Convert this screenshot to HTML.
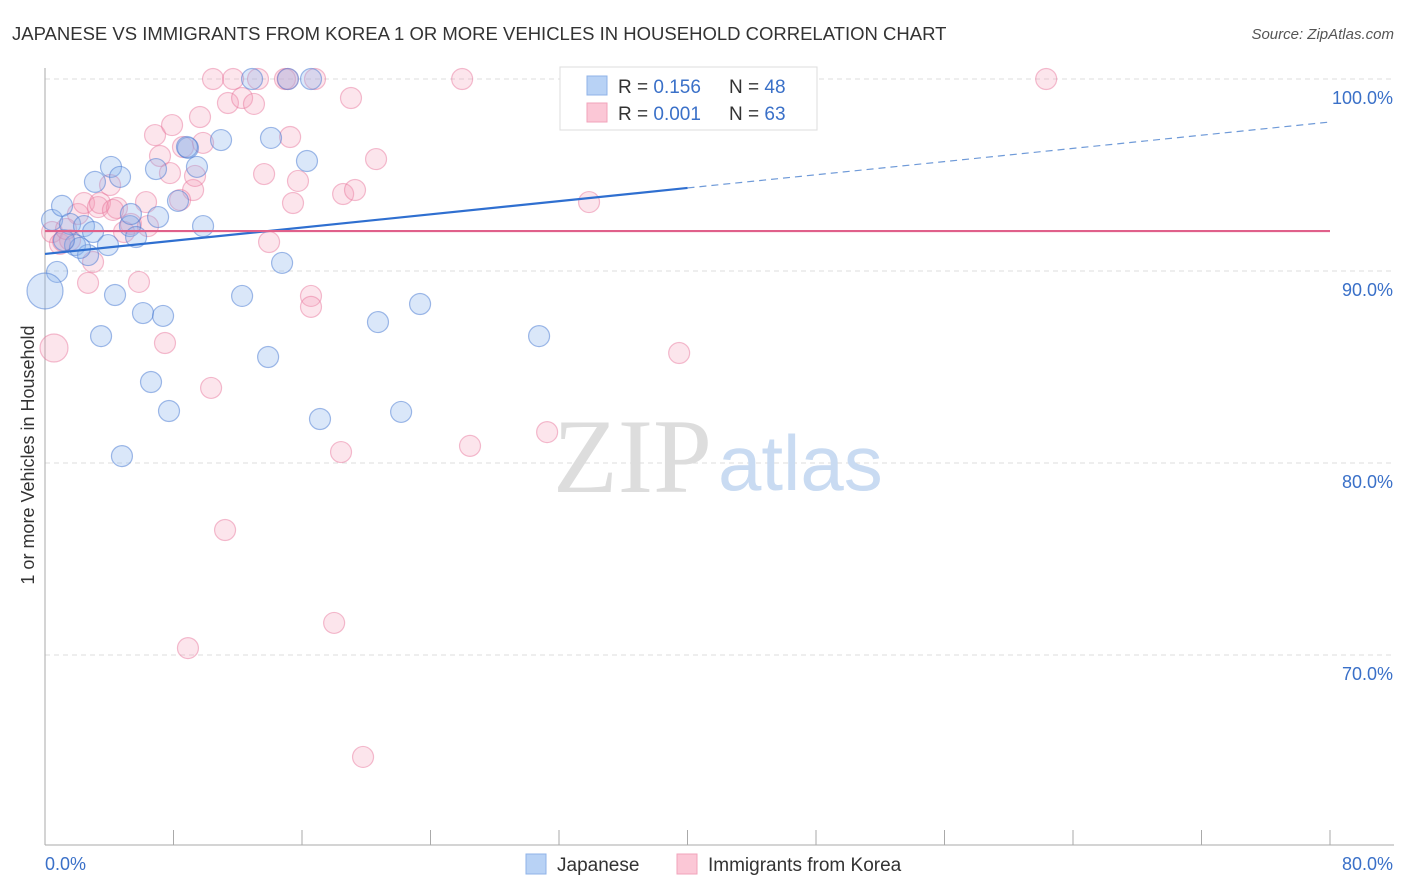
<!DOCTYPE html>
<html><head><meta charset="utf-8">
<style>
body{margin:0;background:#fff;font-family:"Liberation Sans",sans-serif;}
svg{display:block}
</style></head>
<body>
<svg id="chart" width="1406" height="892" xmlns="http://www.w3.org/2000/svg">
<text x="12" y="40" font-size="18.5" fill="#333">JAPANESE VS IMMIGRANTS FROM KOREA 1 OR MORE VEHICLES IN HOUSEHOLD CORRELATION CHART</text>
<text x="1394" y="39" font-size="15" fill="#555" font-style="italic" text-anchor="end">Source: ZipAtlas.com</text>
<g id="grid"></g>
<g id="axes"></g>
<text x="553" y="492" font-size="106" fill="#ddd" font-family="Liberation Serif,serif">ZIP</text>
<text x="718" y="490" font-size="78" fill="#c9dbf2">atlas</text>
<g id="points"></g>
<g id="trends"></g>
<text transform="translate(34,455) rotate(-90)" font-size="18" fill="#333" text-anchor="middle">1 or more Vehicles in Household</text>
<g>
<rect x="560" y="67" width="257" height="63" fill="#fff" stroke="#ddd"/>
<rect x="587" y="76" width="20" height="19" fill="#b8d2f5" stroke="#8fb3e8"/>
<rect x="587" y="103" width="20" height="19" fill="#fbc7d6" stroke="#f2a3bb"/>
<text x="618" y="93" font-size="19" fill="#333">R = <tspan fill="#3a70c8">0.156</tspan><tspan x="729">N = </tspan><tspan fill="#3a70c8">48</tspan></text>
<text x="618" y="120" font-size="19" fill="#333">R = <tspan fill="#3a70c8">0.001</tspan><tspan x="729">N = </tspan><tspan fill="#3a70c8">63</tspan></text>
</g>
<g>
<rect x="526" y="854" width="20" height="20" fill="#b8d2f5" stroke="#8fb3e8"/>
<text x="557" y="871" font-size="19" fill="#333">Japanese</text>
<rect x="677" y="854" width="20" height="20" fill="#fbc7d6" stroke="#f2a3bb"/>
<text x="708" y="871" font-size="19" fill="#333">Immigrants from Korea</text>
</g>
</svg>
<script>
const yTicks=[100,90,80,70];
const yTickLabels=["100.0%","90.0%","80.0%","70.0%"];
const xTickLabels=["0.0%","80.0%"];
const japaneseX=[0.44,1.06,1.56,3.11,4.11,4.67,2.43,2.99,1.87,2.68,3.92,5.29,5.67,7.04,5.35,0.75,0,4.36,3.49,6.10,7.35,6.60,7.72,4.79,6.91,8.28,8.90,9.46,9.84,10.96,12.27,13.89,14.07,14.76,16.31,17.12,20.73,22.17,23.35,30.76,12.89,15.13,16.56,36.86,38.6,8.84,2.18,1.18];
const japaneseY=[92.66,93.39,92.45,94.64,95.42,94.90,92.34,92.03,91.35,90.83,91.35,92.34,91.77,92.81,92.97,89.95,88.96,88.75,86.61,87.81,87.66,84.22,82.71,80.36,95.31,93.65,96.41,95.42,92.34,96.82,88.70,85.52,96.93,90.42,95.73,82.29,87.34,82.66,88.28,86.61,100,100,100,100,100,96.46,91.2,91.6];
const koreaX=[0.44,0.93,1.56,1.12,2.05,2.43,3.30,3.42,4.05,4.48,4.92,5.35,6.41,6.85,7.16,7.78,7.91,8.59,9.22,9.34,9.65,9.84,10.46,11.39,11.71,12.27,13.01,13.26,13.64,13.95,14.94,15.26,15.44,15.75,16.56,16.56,16.81,18.56,19.05,19.30,20.61,18.43,18.0,19.80,11.21,8.90,10.34,7.47,5.85,2.68,0.56,2.99,25.97,26.46,31.26,33.87,39.48,62.33,4.23,6.29,8.41,1.31,15.1];
const koreaY=[92.03,91.41,91.61,91.56,92.97,93.54,93.33,93.54,94.48,93.28,92.03,92.45,92.34,97.08,95.99,95.10,97.60,96.46,94.22,94.95,98.02,96.67,100,98.75,100,99.01,98.70,100,95.05,91.51,100,96.98,93.54,94.69,88.70,88.13,100,94.01,99.01,94.22,95.83,80.57,71.67,64.69,76.51,70.36,83.91,86.25,89.43,89.38,85.99,90.47,100,80.89,81.61,93.59,85.73,100,93.18,93.59,93.70,92.19,100];
const japaneseTrend=[90.89,97.76];
const koreaTrend=[92.08,92.08];
const NS="http://www.w3.org/2000/svg";
const X0=45,X1=1330;
const xs=v=>X0+(v/80)*(X1-X0);
const ys=v=>79+(100-v)*19.2;
function mk(tag,attrs,parent){const e=document.createElementNS(NS,tag);for(const k in attrs)e.setAttribute(k,attrs[k]);parent.appendChild(e);return e;}
const grid=document.getElementById('grid'),axes=document.getElementById('axes');
yTicks.forEach((t,i)=>{
 const l=mk('line',{x1:X0,x2:1394,y1:ys(t),y2:ys(t),stroke:'#ddd','stroke-dasharray':'5,4'},grid);
 
 
 const tx=mk('text',{x:1393,y:ys(t)+25,'font-size':18,fill:'#3a70c8','text-anchor':'end'},axes);
 tx.textContent=yTickLabels[i];
 
 
});
const ax=mk('line',{x1:X0,x2:X0,y1:68,y2:845,stroke:'#aaa'},axes);


const bx=mk('line',{x1:X0,x2:1394,y1:845,y2:845,stroke:'#aaa'},axes);


for(let i=1;i<=10;i++){const t=mk('line',{x1:xs(i*8),x2:xs(i*8),y1:830,y2:845,stroke:'#aaa'},axes);
 
 }
const xl0=mk('text',{x:45,y:870,'font-size':18,fill:'#3a70c8'},axes);xl0.textContent=xTickLabels[0];


const xl1=mk('text',{x:1393,y:870,'font-size':18,fill:'#3a70c8','text-anchor':'end'},axes);xl1.textContent=xTickLabels[1];


const pts=document.getElementById('points');
koreaX.forEach((v,i)=>{const r=(i===50)?14:10.5;const c=mk('circle',{cx:xs(v),cy:ys(koreaY[i]),r:r,fill:'rgba(245,150,180,0.25)',stroke:'rgba(230,110,150,0.45)','stroke-width':1.2},pts);
 
 });
japaneseX.forEach((v,i)=>{const r=(i===16)?18:10.5;const c=mk('circle',{cx:xs(v),cy:ys(japaneseY[i]),r:r,fill:'rgba(140,180,235,0.32)',stroke:'rgba(70,120,210,0.5)','stroke-width':1.2},pts);
 
 });
const tr=document.getElementById('trends');
const jy=x=>japaneseTrend[0]+(japaneseTrend[1]-japaneseTrend[0])*x/80;
const l1=mk('line',{x1:xs(0),y1:ys(jy(0)),x2:xs(40),y2:ys(jy(40)),stroke:'#2f6fd0','stroke-width':2.2},tr);


const l2=mk('line',{x1:xs(40),y1:ys(jy(40)),x2:xs(80),y2:ys(jy(80)),stroke:'#6f9ad8','stroke-width':1.2,'stroke-dasharray':'7,5'},tr);


const l3=mk('line',{x1:xs(0),y1:ys(koreaTrend[0]),x2:xs(80),y2:ys(koreaTrend[1]),stroke:'#e0608a','stroke-width':2.2},tr);


</script>
</body></html>
